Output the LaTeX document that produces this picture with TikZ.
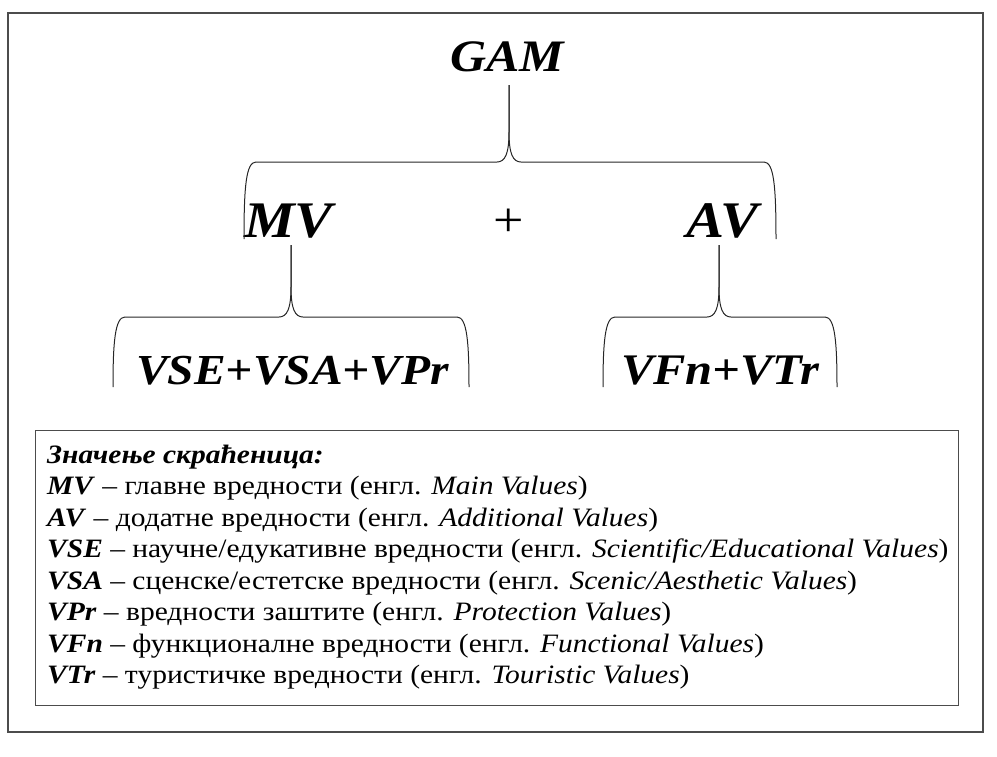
\documentclass[tikz,border=0pt]{standalone}
\usepackage{graphicx}
\usepackage{fontspec}
\setmainfont{Liberation Serif}[BoldFont={Liberation Serif Bold},ItalicFont={Liberation Serif Italic},BoldItalicFont={Liberation Serif Bold Italic}]
\newcommand{\sq}[1]{\scalebox{1}[0.9]{#1}}
\newcommand{\gbrace}[6]{%
  % #1 left x, #2 right x, #3 tip x, #4 tip y, #5 flat y, #6 bottom y
  \draw[bracestyle] (#1,#6) .. controls (#1,#5+25) and (#1+2,#5) .. (#1+12,#5)
     -- (#3-12,#5) .. controls (#3-4,#5) and (#3,#5-8) .. (#3,#5-30) -- (#3,#4);
  \draw[bracestyle] (#2,#6) .. controls (#2,#5+25) and (#2-2,#5) .. (#2-12,#5)
     -- (#3+12,#5) .. controls (#3+4,#5) and (#3,#5-8) .. (#3,#5-30) -- (#3,#4);
}
\begin{document}
\begin{tikzpicture}[x=1pt,y=-1pt,
  bracestyle/.style={line width=1pt,black!85},
  top/.style={inner sep=0pt,font=\fontsize{50}{60}\selectfont\bfseries\itshape},
  big/.style={inner sep=0pt,font=\fontsize{57}{66}\selectfont\bfseries\itshape},
  mid/.style={inner sep=0pt,font=\fontsize{47.5}{58}\selectfont\bfseries\itshape},
  mid2/.style={inner sep=0pt,font=\fontsize{48.5}{58}\selectfont\bfseries\itshape},
  leg/.style={inner sep=0pt,anchor=base west,font=\fontsize{29.5}{32}\selectfont}]
\useasboundingbox (0,0) rectangle (997,756);
\draw[line width=1.5pt,black!70] (8,13) rectangle (983,732);
% top level
\node[top,anchor=base] (gam) at (507,71) {\sq{GAM}};
\node[big,anchor=base west] (mv) at (244,237) {\sq{MV}};
\node[inner sep=0pt,anchor=base,font=\fontsize{54}{60}\selectfont] (plus) at (509,236) {\sq{+}};
\node[big,anchor=base west] (av) at (686,237) {\sq{AV}};
\gbrace{244}{776}{509}{85}{162}{239}
% second level
\node[mid,anchor=base west] (vse) at (136,384) {\sq{VSE+VSA+VPr}};
\node[mid2,anchor=base west] (vfn) at (621,384) {\sq{VFn+VTr}};
\gbrace{113}{469}{291}{245}{317}{387}
\gbrace{603}{837}{719}{245}{317}{387}
% legend
\draw[line width=1pt,black!70] (35,430) rectangle (958,705);
\node[leg] (l0) at (47,463) {\sq{\textbf{\textit{Значење скраћеница:}}}};
\node[leg] (l1) at (47,494.5) {\sq{\textbf{\textit{MV}} – главне вредности (енгл. \textit{Main Values})}};
\node[leg] (l2) at (47,526) {\sq{\textbf{\textit{AV}} – додатне вредности (енгл. \textit{Additional Values})}};
\node[leg] (l3) at (47,557.5) {\sq{\textbf{\textit{VSE}} – научне/едукативне вредности (енгл. \textit{Scientific/Educational Values})}};
\node[leg] (l4) at (47,589) {\sq{\textbf{\textit{VSA}} – сценске/естетске вредности (енгл. \textit{Scenic/Aesthetic Values})}};
\node[leg] (l5) at (47,620.5) {\sq{\textbf{\textit{VPr}} – вредности заштите (енгл. \textit{Protection Values})}};
\node[leg] (l6) at (47,652) {\sq{\textbf{\textit{VFn}} – функционалне вредности (енгл. \textit{Functional Values})}};
\node[leg] (l7) at (47,683.5) {\sq{\textbf{\textit{VTr}} – туристичке вредности (енгл. \textit{Touristic Values})}};
\end{tikzpicture}
\end{document}
